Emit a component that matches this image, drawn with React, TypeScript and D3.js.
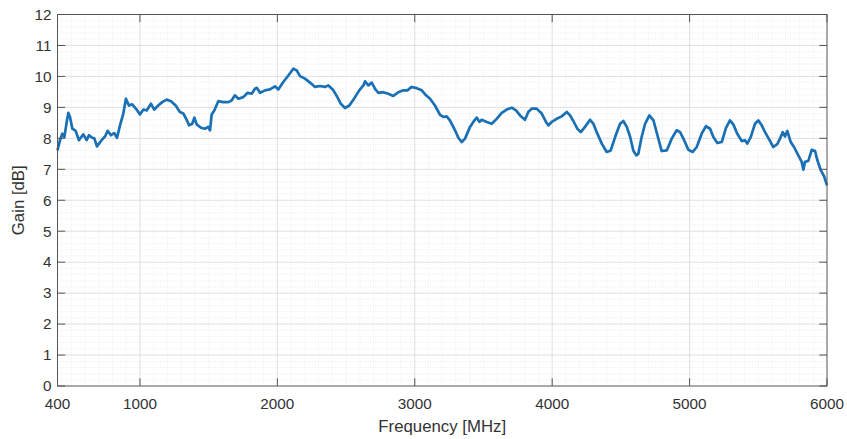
import React from 'react';
import * as d3 from 'd3';

const freqMHz = [
  400, 418, 435, 450, 466, 479, 491, 508, 532, 556, 588, 612, 629, 653, 668, 687, 721, 746, 765, 789,
  813, 833, 855, 879, 898, 920, 944, 976, 1000, 1025, 1049, 1080, 1104, 1133, 1162, 1194, 1226, 1260,
  1291, 1316, 1340, 1357, 1381, 1396, 1413, 1444, 1473, 1497, 1510, 1522, 1541, 1570, 1606, 1643, 1667,
  1691, 1716, 1752, 1784, 1813, 1837, 1850, 1874, 1910, 1946, 1983, 2007, 2043, 2080, 2116, 2141, 2165,
  2201, 2238, 2274, 2310, 2347, 2371, 2403, 2432, 2461, 2492, 2524, 2558, 2596, 2626, 2638, 2662, 2687,
  2711, 2735, 2771, 2807, 2844, 2880, 2917, 2946, 2978, 3014, 3051, 3082, 3111, 3147, 3184, 3208, 3232,
  3256, 3293, 3317, 3342, 3366, 3402, 3426, 3451, 3470, 3487, 3524, 3560, 3596, 3633, 3669, 3706, 3737,
  3766, 3802, 3826, 3851, 3887, 3924, 3955, 3972, 3997, 4033, 4069, 4106, 4130, 4154, 4183, 4208, 4239,
  4276, 4300, 4324, 4361, 4397, 4426, 4458, 4494, 4518, 4543, 4567, 4591, 4612, 4627, 4651, 4676, 4707,
  4737, 4766, 4797, 4834, 4870, 4906, 4931, 4960, 4991, 5023, 5052, 5088, 5119, 5149, 5173, 5202, 5234,
  5265, 5294, 5318, 5347, 5380, 5403, 5420, 5445, 5476, 5500, 5525, 5549, 5580, 5609, 5638, 5663, 5678,
  5694, 5711, 5736, 5760, 5791, 5816, 5828, 5840, 5864, 5889, 5913, 5930, 5955, 5979, 6000,
];

const gainDb = [
  7.61, 7.94, 8.15, 8.04, 8.5, 8.82, 8.69, 8.31, 8.24, 7.94, 8.13, 7.94, 8.1, 8.02, 8.0, 7.74, 7.94, 8.06, 8.24, 8.1,
  8.17, 8.02, 8.42, 8.8, 9.28, 9.06, 9.1, 8.93, 8.77, 8.93, 8.9, 9.12, 8.93, 9.06, 9.17, 9.25, 9.2, 9.06,
  8.85, 8.8, 8.6, 8.42, 8.47, 8.67, 8.45, 8.34, 8.31, 8.37, 8.26, 8.77, 8.9, 9.2, 9.17, 9.17, 9.22,
  9.39, 9.28, 9.33, 9.47, 9.44, 9.6, 9.63, 9.47, 9.55, 9.58, 9.68, 9.58, 9.82, 10.03, 10.25, 10.19, 10.01,
  9.93, 9.8, 9.66, 9.69, 9.66, 9.71, 9.58, 9.37, 9.12, 8.98, 9.06, 9.28, 9.55, 9.71, 9.84, 9.71, 9.8,
  9.6, 9.47, 9.49, 9.44, 9.37, 9.49, 9.55, 9.55, 9.66, 9.62, 9.55, 9.39, 9.28, 9.06, 8.76, 8.69, 8.71,
  8.58, 8.26, 8.02, 7.88, 7.99, 8.37, 8.53, 8.67, 8.53, 8.6, 8.53, 8.47, 8.63, 8.82, 8.93, 8.99, 8.9,
  8.74, 8.6, 8.85, 8.96, 8.96, 8.8, 8.53, 8.42, 8.53, 8.63, 8.71, 8.85, 8.74, 8.56, 8.31, 8.2, 8.37,
  8.6, 8.47, 8.2, 7.83, 7.56, 7.61, 8.04, 8.47, 8.56, 8.37, 8.05, 7.6, 7.45, 7.5, 8.04, 8.47, 8.74,
  8.58, 8.1, 7.59, 7.61, 7.99, 8.26, 8.2, 7.94, 7.63, 7.56, 7.72, 8.15, 8.39, 8.31, 8.04, 7.85, 7.88,
  8.34, 8.58, 8.45, 8.15, 7.91, 7.94, 7.83, 8.04, 8.47, 8.58, 8.42, 8.2, 7.96, 7.72, 7.81, 8.04, 8.2,
  8.06, 8.24, 7.88, 7.72, 7.45, 7.24, 6.99, 7.24, 7.27, 7.63, 7.59, 7.29, 6.97, 6.77, 6.48,
];

const xTicks = [400, 1000, 2000, 3000, 4000, 5000, 6000];
const yTicks = d3.range(0, 13, 1);
const xMinor = d3.range(500, 6000, 100);
const yMinor = d3.range(0.2, 12, 0.2);

const W = 847;
const H = 439;
const left = 57.5;
const right = 827;
const top = 14.5;
const bottom = 386;
const font = '"Liberation Sans", Arial, Helvetica, sans-serif';
const ink = '#333333';

export default function App() {
  const x = d3.scaleLinear().domain([400, 6000]).range([left, right]);
  const y = d3.scaleLinear().domain([0, 12]).range([bottom, top]);
  const pts: [number, number][] = freqMHz.map((f, i) => [f, gainDb[i]]);
  const line = d3.line<[number, number]>().x(d => x(d[0])).y(d => y(d[1]));
  const tl = 7.7;

  return (
    <svg width={W} height={H} style={{ position: 'fixed', left: 0, top: 0, background: '#fff' }}>
      <rect x={0} y={0} width={W} height={H} fill="#fff" />

      {/* minor grid */}
      <g stroke="#e9e9e9" strokeWidth={0.8} strokeDasharray="1,1.5">
        {xMinor.filter(v => v % 1000 !== 0).map(v => (
          <line key={'xm' + v} x1={x(v)} x2={x(v)} y1={top} y2={bottom} />
        ))}
        {yMinor.filter(v => Math.abs(v - Math.round(v)) > 1e-6).map(v => (
          <line key={'ym' + v} x1={left} x2={right} y1={y(v)} y2={y(v)} />
        ))}
      </g>

      {/* major grid */}
      <g stroke="#dcdcdc" strokeWidth={0.9}>
        {xTicks.slice(1, -1).map(v => (
          <line key={'xg' + v} x1={x(v)} x2={x(v)} y1={top} y2={bottom} />
        ))}
        {yTicks.slice(1, -1).map(v => (
          <line key={'yg' + v} x1={left} x2={right} y1={y(v)} y2={y(v)} />
        ))}
      </g>

      <path d={line(pts) || ''} fill="none" stroke="#1a70b5" strokeWidth={2.7} strokeLinejoin="round" />

      {/* box and ticks */}
      <rect x={left} y={top} width={right - left} height={bottom - top} fill="none" stroke="#555" strokeWidth={1} />
      <g stroke="#555" strokeWidth={1}>
        {xTicks.map(v => (
          <g key={'xt' + v}>
            <line x1={x(v)} x2={x(v)} y1={bottom} y2={bottom - tl} />
            <line x1={x(v)} x2={x(v)} y1={top} y2={top + tl} />
          </g>
        ))}
        {yTicks.map(v => (
          <g key={'yt' + v}>
            <line x1={left} x2={left + tl} y1={y(v)} y2={y(v)} />
            <line x1={right} x2={right - tl} y1={y(v)} y2={y(v)} />
          </g>
        ))}
      </g>

      <g fontFamily={font} fontSize={15.3} fill={ink}>
        {xTicks.map(v => (
          <text key={'xl' + v} x={x(v)} y={409} textAnchor="middle">{v}</text>
        ))}
        {yTicks.map(v => (
          <text key={'yl' + v} x={51.5} y={y(v) + 5.3} textAnchor="end">{v}</text>
        ))}
      </g>

      <text x={(left + right) / 2} y={432} textAnchor="middle" fontFamily={font} fontSize={16.8} fill={ink}>
        Frequency [MHz]
      </text>
      <text
        transform={`translate(24,${(top + bottom) / 2}) rotate(-90)`}
        textAnchor="middle"
        fontFamily={font}
        fontSize={16.8}
        fill={ink}
      >
        Gain [dB]
      </text>
    </svg>
  );
}
